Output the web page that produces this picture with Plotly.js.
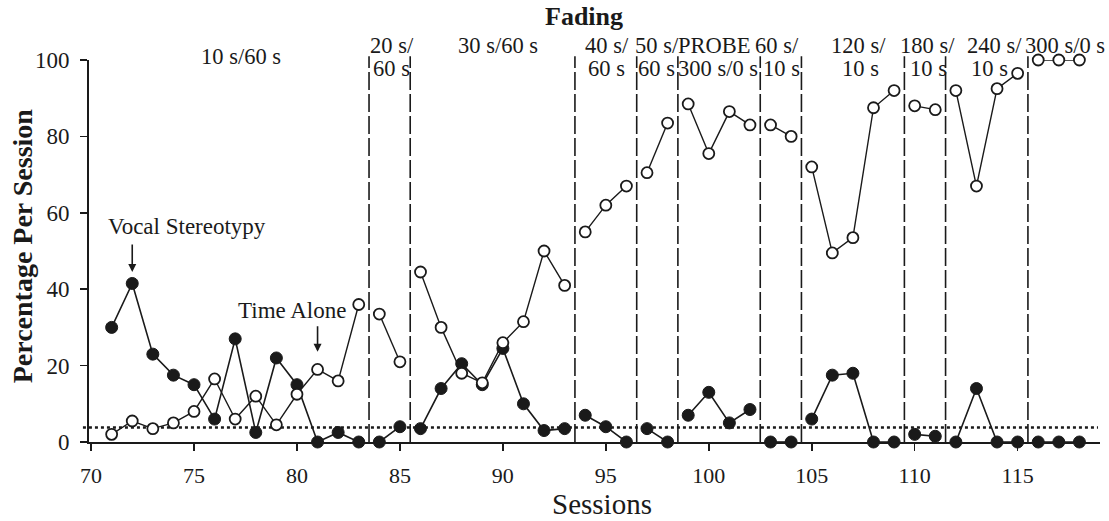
<!DOCTYPE html>
<html>
<head>
<meta charset="utf-8">
<script src="https://cdn.plot.ly/plotly-3.0.1.min.js"></script>
<style>html,body{margin:0;padding:0;background:#fff;}#chart{width:1109px;height:521px;}</style>
</head>
<body>
<div id="chart"></div>
<script>
// ---- data ----
const sessions = [71,72,73,74,75,76,77,78,79,80,81,82,83,84,85,86,87,88,89,90,91,92,93,94,95,96,97,98,99,100,101,102,103,104,105,106,107,108,109,110,111,112,113,114,115,116,117,118];
const vocalStereotypy = [30,41.5,23,17.5,15,6,27,2.5,22,15,0,2.5,0,0,4,3.5,14,20.5,15,24.5,10,3,3.5,7,4,0,3.5,0,7,13,5,8.5,0,0,6,17.5,18,0,0,2,1.5,0,14,0,0,0,0,0];
const timeAlone = [2,5.5,3.5,5,8,16.5,6,12,4.5,12.5,19,16,36,33.5,21,44.5,30,18,15.5,26,31.5,50,41,55,62,67,70.5,83.5,88.5,75.5,86.5,83,83,80,72,49.5,53.5,87.5,92,88,87,92,67,92.5,96.5,100,100,100];
const phaseChanges = [83.5,85.5,93.5,96.5,98.5,102.5,104.5,109.5,111.5,115.5];
const criterion = 3.8;
const phaseRow1 = [
  {text:"20 s/", x:84.6}, {text:"30 s/60 s", x:89.76}, {text:"40 s/", x:95.05},
  {text:"50 s/", x:97.48}, {text:"PROBE", x:100.29}, {text:"60 s/", x:103.3},
  {text:"120 s/", x:107.28}, {text:"180 s/", x:110.63}, {text:"240 s/", x:113.88},
  {text:"300 s/0 s", x:117.28}
];
const phaseRow2 = [
  {text:"60 s", x:84.6}, {text:"60 s", x:95.05}, {text:"60 s", x:97.48},
  {text:"300 s/0 s", x:100.44}, {text:"10 s", x:103.54}, {text:"10 s", x:107.38},
  {text:"10 s", x:110.68}, {text:"10 s", x:113.64}
];
const xTicks = [70,75,80,85,90,95,100,105,110,115];
const yTicks = [0,20,40,60,80,100];

// ---- build series with breaks at phase changes ----
function withGaps(vals){
  const xs=[], ys=[];
  for(let i=0;i<sessions.length;i++){
    xs.push(sessions[i]); ys.push(vals[i]);
    if(i<sessions.length-1 && phaseChanges.some(p=>p>sessions[i] && p<sessions[i+1])){
      xs.push(null); ys.push(null);
    }
  }
  return {xs, ys};
}
const v = withGaps(vocalStereotypy);
const t = withGaps(timeAlone);
const FONT = "Liberation Serif, Times New Roman, serif";
const INK = "#1a1a1a";

const traces = [
  {x:v.xs, y:v.ys, type:'scatter', mode:'lines+markers', connectgaps:false, cliponaxis:false,
   line:{color:INK, width:1.6}, marker:{symbol:'circle', size:12, color:INK, line:{color:INK,width:1}}, name:'Vocal Stereotypy'},
  {x:t.xs, y:t.ys, type:'scatter', mode:'lines+markers', connectgaps:false, cliponaxis:false,
   line:{color:INK, width:1.4}, marker:{symbol:'circle', size:11, color:'#fff', line:{color:INK,width:1.8}}, name:'Time Alone'}
];

const shapes = phaseChanges.map(p=>({type:'line', xref:'x', yref:'paper', x0:p, x1:p, y0:0, y1:1.01,
  line:{color:INK, width:1.6, dash:'18px,4px'}, layer:'below'}));
shapes.push({type:'line', xref:'paper', yref:'y', x0:-0.006, x1:0.998, y0:criterion, y1:criterion,
  line:{color:INK, width:2.6, dash:'3px,3px'}, layer:'below'});
shapes.push({type:'line', xref:'paper', yref:'y', x0:-0.006, x1:0, y0:0, y1:0, line:{color:INK, width:2}});

const annFont = {family:FONT, size:22.5, color:INK};
const annotations = [];
phaseRow1.forEach(a=>annotations.push({x:a.x, y:1.039, xref:'x', yref:'paper', text:a.text, showarrow:false, font:annFont, xanchor:'center', yanchor:'middle'}));
phaseRow2.forEach(a=>annotations.push({x:a.x, y:0.979, xref:'x', yref:'paper', text:a.text, showarrow:false, font:annFont, xanchor:'center', yanchor:'middle'}));
annotations.push({x:77.28, y:1.008, xref:'x', yref:'paper', text:'10 s/60 s', showarrow:false, font:annFont, xanchor:'center', yanchor:'middle'});
annotations.push({x:0.4896, y:1.113, xref:'paper', yref:'paper', text:'<b>Fading</b>', showarrow:false, font:{family:FONT, size:26, color:INK}, xanchor:'center', yanchor:'middle'});
annotations.push({x:74.66, y:56.3, xref:'x', yref:'y', text:'Vocal Stereotypy', showarrow:false, font:{family:FONT, size:23, color:INK}, xanchor:'center', yanchor:'middle'});
annotations.push({x:72, y:44.5, xref:'x', yref:'y', ax:0, ay:-29, showarrow:true, arrowhead:2, arrowsize:1, arrowwidth:1.6, arrowcolor:INK, text:''});
annotations.push({x:79.76, y:34.3, xref:'x', yref:'y', text:'Time Alone', showarrow:false, font:{family:FONT, size:23, color:INK}, xanchor:'center', yanchor:'middle'});
annotations.push({x:81, y:23.6, xref:'x', yref:'y', ax:0, ay:-27, showarrow:true, arrowhead:2, arrowsize:1, arrowwidth:1.6, arrowcolor:INK, text:''});
annotations.push({x:0.507, y:-0.163, xref:'paper', yref:'paper', text:'Sessions', showarrow:false, font:{family:FONT, size:29, color:INK}, xanchor:'center', yanchor:'middle'});
annotations.push({x:-0.066, y:0.513, xref:'paper', yref:'paper', text:'<b>Percentage Per Session</b>', textangle:-90, showarrow:false, font:{family:FONT, size:28, color:INK}, xanchor:'center', yanchor:'middle'});

const layout = {
  width:1109, height:521,
  margin:{l:89, r:9, t:60, b:79},
  paper_bgcolor:'#fff', plot_bgcolor:'#fff',
  showlegend:false,
  font:{family:FONT, color:INK},
  xaxis:{range:[69.9,119], tickvals:xTicks, ticktext:xTicks.map(String), ticks:'outside', ticklen:7, tickwidth:1.6, tickcolor:INK,
    showline:true, linecolor:INK, linewidth:2, showgrid:false, zeroline:false, tickfont:{family:FONT,size:22,color:INK}, ticklabelstandoff:6},
  yaxis:{range:[0,100], tickvals:yTicks, ticktext:yTicks.map(String), ticks:'outside', ticklen:7, tickwidth:1.6, tickcolor:INK,
    showline:true, linecolor:INK, linewidth:2, showgrid:false, zeroline:false, tickfont:{family:FONT,size:23,color:INK}, ticklabelstandoff:6},
  shapes, annotations
};
Plotly.newPlot('chart', traces, layout, {staticPlot:true, displayModeBar:false});
</script>
</body>
</html>
